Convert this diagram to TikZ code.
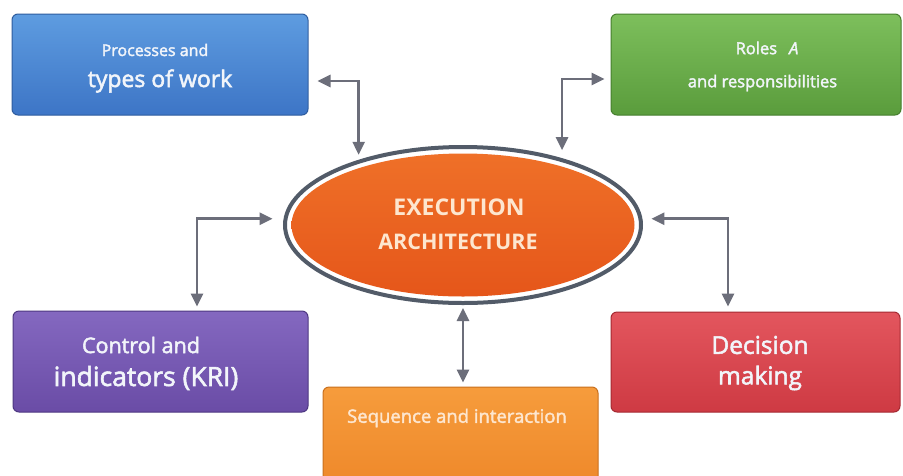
\documentclass[tikz,border=0pt]{standalone}
\usepackage{fontspec}
\setmainfont{Open Sans}
\newfontfamily\medfont{Open Sans}[FakeBold=2.2]
\usetikzlibrary{arrows.meta,shapes.geometric}
\definecolor{blueT}{HTML}{5E9CE0}
\definecolor{blueB}{HTML}{3D75C6}
\definecolor{blueD}{HTML}{2E5C9E}
\definecolor{greenT}{HTML}{7DBF5C}
\definecolor{greenB}{HTML}{5A9C3C}
\definecolor{greenD}{HTML}{467F2E}
\definecolor{purpT}{HTML}{8468C0}
\definecolor{purpB}{HTML}{6A4CA6}
\definecolor{purpD}{HTML}{4E3882}
\definecolor{redT}{HTML}{E3565E}
\definecolor{redB}{HTML}{CE3A43}
\definecolor{redD}{HTML}{A52A32}
\definecolor{oranT}{HTML}{F69C3C}
\definecolor{oranB}{HTML}{EE882A}
\definecolor{oranD}{HTML}{C9701E}
\definecolor{ellT}{HTML}{EF7028}
\definecolor{ellB}{HTML}{E5561A}
\definecolor{ringc}{HTML}{525B68}
\definecolor{arrowc}{HTML}{6C6E7A}
\definecolor{txtw}{HTML}{F2F5FA}
\definecolor{txtc}{HTML}{FDE6CF}
\begin{document}
\begin{tikzpicture}[x=1pt,y=-1pt,
  box/.style={rectangle, rounded corners=6pt, line width=1pt, inner sep=0pt},
  lbl/.style={inner sep=0pt, text=txtw, font=\medfont\fontsize{#1}{#1}\selectfont},
  conn/.style={draw=arrowc, line width=2.6pt,
    {Triangle[length=13pt,width=12pt]}-{Triangle[length=13pt,width=12pt]}}]
\useasboundingbox (0,0) rectangle (903,475);
\fill[white] (0,0) rectangle (903,475);
% boxes
\node[box, draw=blueD, top color=blueT, bottom color=blueB,
  minimum width=296pt, minimum height=101pt] (b) at (160,64.5) {};
\node[box, draw=greenD, top color=greenT, bottom color=greenB,
  minimum width=290pt, minimum height=101pt] (g) at (756,64.5) {};
\node[box, draw=purpD, top color=purpT, bottom color=purpB,
  minimum width=295pt, minimum height=101pt] (p) at (160.5,361.5) {};
\node[box, draw=redD, top color=redT, bottom color=redB,
  minimum width=289pt, minimum height=100pt] (r) at (755.5,362) {};
\node[box, draw=oranD, top color=oranT, bottom color=oranB,
  minimum width=275pt, minimum height=100pt] (o) at (460.5,437) {};
% ellipse
\node[ellipse, draw=ringc, line width=4pt, fill=white, inner sep=0pt,
  minimum width=356pt, minimum height=156pt] (e) at (463,225) {};
\node[ellipse, top color=ellT, bottom color=ellB, inner sep=0pt,
  minimum width=343pt, minimum height=143pt] (ei) at (e.center) {};
% texts
\node[lbl=16] (t1) at (155,50) {Processes and};
\node[lbl=23] (t2) at (160,81) {types of work};
\node[lbl=16.5] (t3) at (767,48) {Roles\hspace{12pt}\textit{A}};
\node[lbl=16.5] (t4) at (762.5,83) {and responsibilities};
\node[lbl=21.5] (t5) at (141,345) {Control and};
\node[lbl=26.5] (t6) at (146,378) {indicators (KRI)};
\node[lbl=24.5] (t7) at (760,345) {Decision};
\node[lbl=24.5] (t8) at (760,378) {making};
\node[lbl=23, text=txtc, font=\bfseries\fontsize{23}{23}\selectfont] (t9) at (459,207) {EXECUTION};
\node[lbl=22, text=txtc, font=\bfseries\fontsize{21.5}{21.5}\selectfont] (t10) at (458,242) {ARCHITECTURE};
\node[lbl=18.5, text=txtc] (t11) at (457,418) {Sequence and interaction};
% connectors
\draw[conn, shorten <=9pt, shorten >=5pt] ([yshift=-16.5pt]b.east) -| (e.148);
\draw[conn, shorten <=6pt, shorten >=8pt] ([yshift=-14.5pt]g.west) -| (e.34);
\draw[conn, shorten <=4pt, shorten >=11pt] ([xshift=36.5pt]p.north) |- (e.178);
\draw[conn, shorten <=5pt, shorten >=9pt] ([xshift=-27.5pt]r.north) |- (e.2);
\draw[conn, shorten <=3pt, shorten >=4pt] (e.south) -- (e.south |- o.north);
\end{tikzpicture}
\end{document}
